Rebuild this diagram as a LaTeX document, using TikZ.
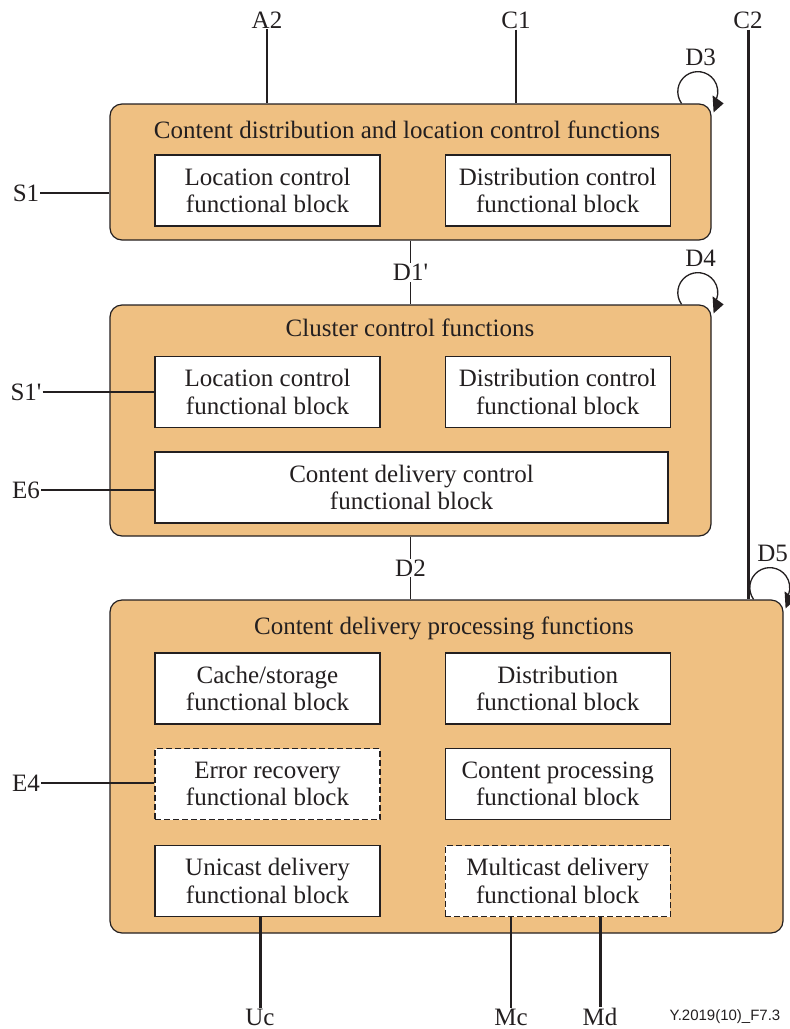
\documentclass[tikz,border=0pt]{standalone}
\usepackage{fontspec}
\setmainfont{Liberation Serif}
\newfontfamily\figfont{Liberation Sans}
\usetikzlibrary{positioning}
\definecolor{funcfill}{RGB}{239,192,130}
\definecolor{ink}{RGB}{35,31,32}
\tikzset{funcs/.style={
        draw=ink,
        line width=1.2pt,
        fill=funcfill,
        rounded corners=12pt,
        minimum width=601pt,
        inner sep=0pt},
    fblock/.style={
        draw=ink,
        line width=1.2pt,
        fill=white,
        minimum width=225pt,
        minimum height=71pt,
        align=center,
        inner sep=0pt,
        text=ink,
        font=\fontsize{25}{27.5}\selectfont},
    optblock/.style={fblock, dash pattern=on 6pt off 3pt},
    reflabel/.style={text=ink, inner sep=1pt, font=\fontsize{25}{27.5}\selectfont},
    ifline/.style={draw=ink, line width=1.3pt},
    bigline/.style={draw=ink, line width=3pt} }
% loop at the corner of a box: #1 corner, #2 name, #3 text
\newcommand{\dloop}[3]{
\draw[ifline] ([xshift=-30pt]#1) arc[start angle=144, end angle=380, radius=20];
\fill[ink] ([shift={(1,-8)}]#1) -- ([shift={(12,0)}]#1) -- ([shift={(2,9)}]#1) -- cycle;
\node[reflabel] (#2) at ([shift={(-11,-46)}]#1) {#3};}

\begin{document}
\begin{tikzpicture}[x=1pt,y=-1pt]
\useasboundingbox (0,0) rectangle (790,1029);

% function groups
\node[funcs, minimum height=136pt] (cdlc) at (410.5,172) {};
\node[funcs, minimum height=231pt] (ccf) at (410.5,420.5) {};
\node[funcs, minimum width=673pt, minimum height=333pt] (cdpf) at (446.5,766.5) {};

\node[reflabel] (cdlct) at (407,130) {Content distribution and location control functions};
\node[reflabel] (ccft) at (410,328) {Cluster control functions};
\node[reflabel] (cdpft) at (444,628) {Content delivery processing functions};

% blocks
\node[fblock] (lcfb1) at (267.5,190.5) {Location control\\functional block};
\node[fblock] (dcfb1) [right=64pt of lcfb1] {Distribution control\\functional block};

\node[fblock] (lcfb2) at (267.5,392) {Location control\\functional block};
\node[fblock] (dcfb2) [right=64pt of lcfb2] {Distribution control\\functional block};
\node[fblock, minimum width=513pt] (cdcfb) at (411.5,487.5) {Content delivery control\\functional block};

\node[fblock] (csfb) at (267.5,688.5) {Cache/storage\\functional block};
\node[fblock] (dfb) [right=64pt of csfb] {Distribution\\functional block};
\node[optblock] (erfb) at (267.5,784) {Error recovery\\functional block};
\node[fblock] (cpfb) [right=64pt of erfb] {Content processing\\functional block};
\node[fblock] (udfb) at (267.5,881) {Unicast delivery\\functional block};
\node[optblock] (mdfb) [right=64pt of udfb] {Multicast delivery\\functional block};

% reference points
\node[reflabel] (A2) at (267,20) {A2};
\node[reflabel] (C1) at (516,20) {C1};
\node[reflabel] (C2) at (748,20) {C2};
\node[reflabel] (S1) at (26,193) {S1};
\node[reflabel] (S1p) at (26,392) {S1\textquotesingle};
\node[reflabel] (E6) at (26,490) {E6};
\node[reflabel] (E4) at (26,783) {E4};
\node[reflabel] (Uc) at (260,1017) {Uc};
\node[reflabel] (Mc) at (511,1017) {Mc};
\node[reflabel] (Md) at (600,1017) {Md};

\path[ifline]
(A2.south) edge (A2 |- cdlc.north)
(C1.south) edge (C1 |- cdlc.north)
(S1.east) edge (S1 -| cdlc.west)
(S1p.east) edge (S1p -| lcfb2.west)
(E6.east) edge (E6 -| cdcfb.west)
(E4.east) edge (E4 -| erfb.west)
(Mc.north) edge (Mc |- mdfb.south)
(cdlc.south) edge node[reflabel, fill=white] (D1p) {D1\textquotesingle} (ccf.north)
(ccf.south) edge node[reflabel, fill=white] (D2) {D2} (ccf.south |- cdpf.north);

\path[bigline]
(C2.south) edge (C2 |- cdpf.north)
(Uc.north) edge (Uc |- udfb.south)
(Md.north) edge (Md |- mdfb.south);

\dloop{cdlc.north east}{D3}{D3}
\dloop{ccf.north east}{D4}{D4}
\dloop{cdpf.north east}{D5}{D5}

\node[text=ink, font=\figfont\fontsize{15}{18}\selectfont] (figref) at (725,1017) {Y.2019(10)\_F7.3};

\end{tikzpicture}
\end{document}
